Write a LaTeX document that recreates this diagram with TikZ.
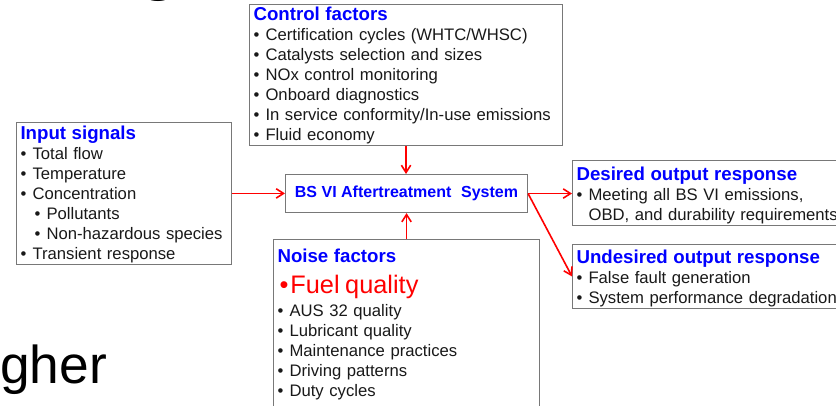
\documentclass[tikz,border=0pt]{standalone}
\usepackage{fontspec}
\setmainfont{Liberation Sans}
\usetikzlibrary{arrows.meta}
\definecolor{ttlblue}{RGB}{0,0,255}
\definecolor{arrred}{RGB}{255,0,0}
\definecolor{boxgray}{RGB}{120,120,120}
\definecolor{txtgray}{RGB}{25,25,25}
\newcommand\bul{\makebox[9pt][l]{•}}
\newcommand\ttl[2]{{\fontsize{14}{15}\selectfont\bfseries\color{ttlblue}\rule{0pt}{#1}#2}}
\tikzset{
  box/.style={draw=boxgray, line width=0.8pt, align=left, anchor=north west,
    inner xsep=3pt, inner ysep=1pt, text=txtgray,
    font=\fontsize{12.5}{15}\selectfont},
  core/.style={draw=boxgray, line width=0.8pt, anchor=north west,
    minimum width=181.5pt, minimum height=28.5pt, text=ttlblue,
    font=\fontsize{12}{14}\selectfont\bfseries},
  big/.style={anchor=base west, inner sep=0pt, text=black},
  arr/.style={draw=arrred, line width=1.2pt, -{Straight Barb[length=5.5pt,width=7pt]}}
}
\begin{document}
\begin{tikzpicture}[x=0.75pt, y=-0.75pt]
    \useasboundingbox (0,0) rectangle (836,406);
    \node[big, font=\fontsize{58}{70}\selectfont] (ttlg) at (137,-14) {g};
    \node[big, font=\fontsize{40}{48}\selectfont] (gher) at (0,383) {gher};

    \node[box, text width=228.75pt] (ctl) at (249,4) {\ttl{11pt}{Control factors}\\
        \bul Certification cycles (WHTC/WHSC)\\
        \bul Catalysts selection and sizes\\
        \bul NOx control monitoring\\
        \bul Onboard diagnostics\\
        \bul In service conformity/In-use emissions\\
        \bul Fluid economy};
    \node[box, text width=155.25pt] (inp) at (16,122) {\ttl{11.75pt}{Input signals}\\
        \bul Total flow\\
        \bul Temperature\\
        \bul Concentration\\
        \hspace*{10.5pt}\bul Pollutants\\
        \hspace*{10.5pt}\bul Non-hazardous species\\
        \bul Transient response};
    \node[core] (bs) at (285,174) {BS VI Aftertreatment\hspace{4pt} System};
    \node[box, text width=193.5pt] (noise) at (273,239) {\ttl{16.25pt}{Noise factors}\\[8pt]
        {\fontsize{19}{15}\selectfont\color{arrred}\hspace*{1.5pt}•\hspace{1.5pt}Fuel quality}\\[2.25pt]
        \bul AUS 32 quality\\
        \bul Lubricant quality\\
        \bul Maintenance practices\\
        \bul Driving patterns\\
        \bul Duty cycles\rule[-20pt]{0pt}{0pt}};
    \node[box, text width=219pt] (des) at (572,160) {\ttl{14pt}{Desired output response}\\
        \bul Meeting all BS VI emissions,\\
        \hspace*{9pt}OBD, and durability requirements};
    \node[box, text width=219pt] (und) at (572,244) {\ttl{13.25pt}{Undesired output response}\\
        \bul False fault generation\\
        \bul System performance degradation};

    \draw[arr] (inp.east) -- (inp.east -| bs.west);
    \draw[arr] (ctl.south) -- (ctl.south |- bs.north);
    \draw[arr] (noise.north) -- (noise.north |- bs.south);
    \draw[arr] (bs.east) -- (bs.east -| des.west);
    \draw[arr] (bs.east) -- (und.west);
\end{tikzpicture}
\end{document}
